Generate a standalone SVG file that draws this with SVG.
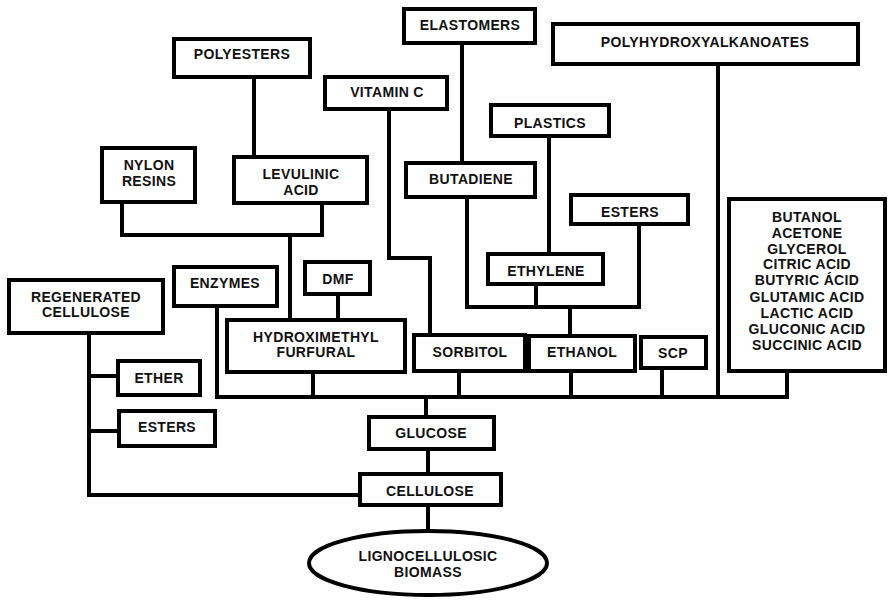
<svg xmlns="http://www.w3.org/2000/svg" width="889" height="600" viewBox="0 0 889 600">
<style>
.b{fill:#fff;stroke:#000;stroke-width:4}
.t{font-family:"Liberation Sans",Arial,sans-serif;font-weight:bold;font-size:14px;letter-spacing:0.35px;text-anchor:middle;fill:#111}
.c{fill:none;stroke:#000;stroke-width:4;stroke-linejoin:miter;stroke-linecap:square}
</style>
<rect width="889" height="600" fill="#fff"/>
<g id="connectors">
<path class="c" d="M254 79V157"/>
<path class="c" d="M122 204V235H322V205"/>
<path class="c" d="M290 235V320"/>
<path class="c" d="M338 294V320"/>
<path class="c" d="M389 111V258H430V335"/>
<path class="c" d="M462 43V163"/>
<path class="c" d="M549 136V254"/>
<path class="c" d="M467 197V307H639V224"/>
<path class="c" d="M536 284V307"/>
<path class="c" d="M570 307V336"/>
<path class="c" d="M718 64V397"/>
<path class="c" d="M217 306V397H787V371"/>
<path class="c" d="M313 372V397"/>
<path class="c" d="M459 371V397"/>
<path class="c" d="M571 371V397"/>
<path class="c" d="M662 368V397"/>
<path class="c" d="M426 397V417"/>
<path class="c" d="M428 449V474"/>
<path class="c" d="M89 333V495H360"/>
<path class="c" d="M89 376H118"/>
<path class="c" d="M89 431H119"/>
<path class="c" d="M428 505V531"/>
</g>
<g id="polyesters"><rect class="b" x="174" y="39" width="136" height="38"/><text class="t" x="242" y="59">POLYESTERS</text></g>
<g id="elastomers"><rect class="b" x="404" y="9" width="131" height="34"/><text class="t" x="470" y="30">ELASTOMERS</text></g>
<g id="pha"><rect class="b" x="553" y="24" width="305" height="40"/><text class="t" x="705" y="47">POLYHYDROXYALKANOATES</text></g>
<g id="vitaminc"><rect class="b" x="325" y="77" width="122" height="32"/><text class="t" x="387" y="97">VITAMIN C</text></g>
<g id="plastics"><rect class="b" x="491" y="105" width="118" height="31"/><text class="t" x="550" y="128">PLASTICS</text></g>
<g id="nylon"><rect class="b" x="102" y="148" width="93" height="54"/><text class="t" x="149" y="170">NYLON</text><text class="t" x="149" y="186">RESINS</text></g>
<g id="levulinic"><rect class="b" x="234" y="157" width="133" height="46"/><text class="t" x="301" y="179">LEVULINIC</text><text class="t" x="301" y="195">ACID</text></g>
<g id="butadiene"><rect class="b" x="406" y="163" width="129" height="34"/><text class="t" x="471" y="184">BUTADIENE</text></g>
<g id="esters2"><rect class="b" x="571" y="195" width="117" height="29"/><text class="t" x="630" y="217">ESTERS</text></g>
<g id="ethylene"><rect class="b" x="488" y="254" width="115" height="30"/><text class="t" x="546" y="276">ETHYLENE</text></g>
<g id="products"><rect class="b" x="729" y="199" width="156" height="172"/>
<text class="t" x="807" y="222">BUTANOL</text>
<text class="t" x="807" y="238">ACETONE</text>
<text class="t" x="807" y="254">GLYCEROL</text>
<text class="t" x="807" y="269">CITRIC ACID</text>
<text class="t" x="807" y="285">BUTYRIC ÁCID</text>
<text class="t" x="807" y="302">GLUTAMIC ACID</text>
<text class="t" x="807" y="318">LACTIC ACID</text>
<text class="t" x="807" y="334">GLUCONIC ACID</text>
<text class="t" x="807" y="350">SUCCINIC ACID</text>
</g>
<g id="enzymes"><rect class="b" x="174" y="267" width="103" height="39"/><text class="t" x="225" y="288">ENZYMES</text></g>
<g id="dmf"><rect class="b" x="305" y="262" width="65" height="32"/><text class="t" x="338" y="284">DMF</text></g>
<g id="regenerated"><rect class="b" x="9" y="280" width="154" height="53"/><text class="t" x="86" y="302">REGENERATED</text><text class="t" x="86" y="317">CELLULOSE</text></g>
<g id="hmf"><rect class="b" x="227" y="320" width="178" height="52"/><text class="t" x="316" y="342">HYDROXIMETHYL</text><text class="t" x="316" y="357">FURFURAL</text></g>
<g id="sorbitol"><rect class="b" x="414" y="335" width="111" height="36"/><text class="t" x="470" y="357">SORBITOL</text></g>
<g id="ethanol"><rect class="b" x="529" y="336" width="106" height="35"/><text class="t" x="582" y="357">ETHANOL</text></g>
<g id="scp"><rect class="b" x="641" y="337" width="65" height="31"/><text class="t" x="673" y="358">SCP</text></g>
<g id="ether"><rect class="b" x="118" y="361" width="82" height="34"/><text class="t" x="159" y="383">ETHER</text></g>
<g id="esters1"><rect class="b" x="119" y="411" width="96" height="35"/><text class="t" x="167" y="432">ESTERS</text></g>
<g id="glucose"><rect class="b" x="369" y="417" width="125" height="32"/><text class="t" x="431" y="438">GLUCOSE</text></g>
<g id="cellulose"><rect class="b" x="360" y="474" width="141" height="31"/><text class="t" x="430" y="496">CELLULOSE</text></g>
<g id="biomass"><ellipse class="b" cx="428" cy="563" rx="119" ry="32"/><text class="t" x="428" y="561">LIGNOCELLULOSIC</text><text class="t" x="428" y="577">BIOMASS</text></g>
</svg>
